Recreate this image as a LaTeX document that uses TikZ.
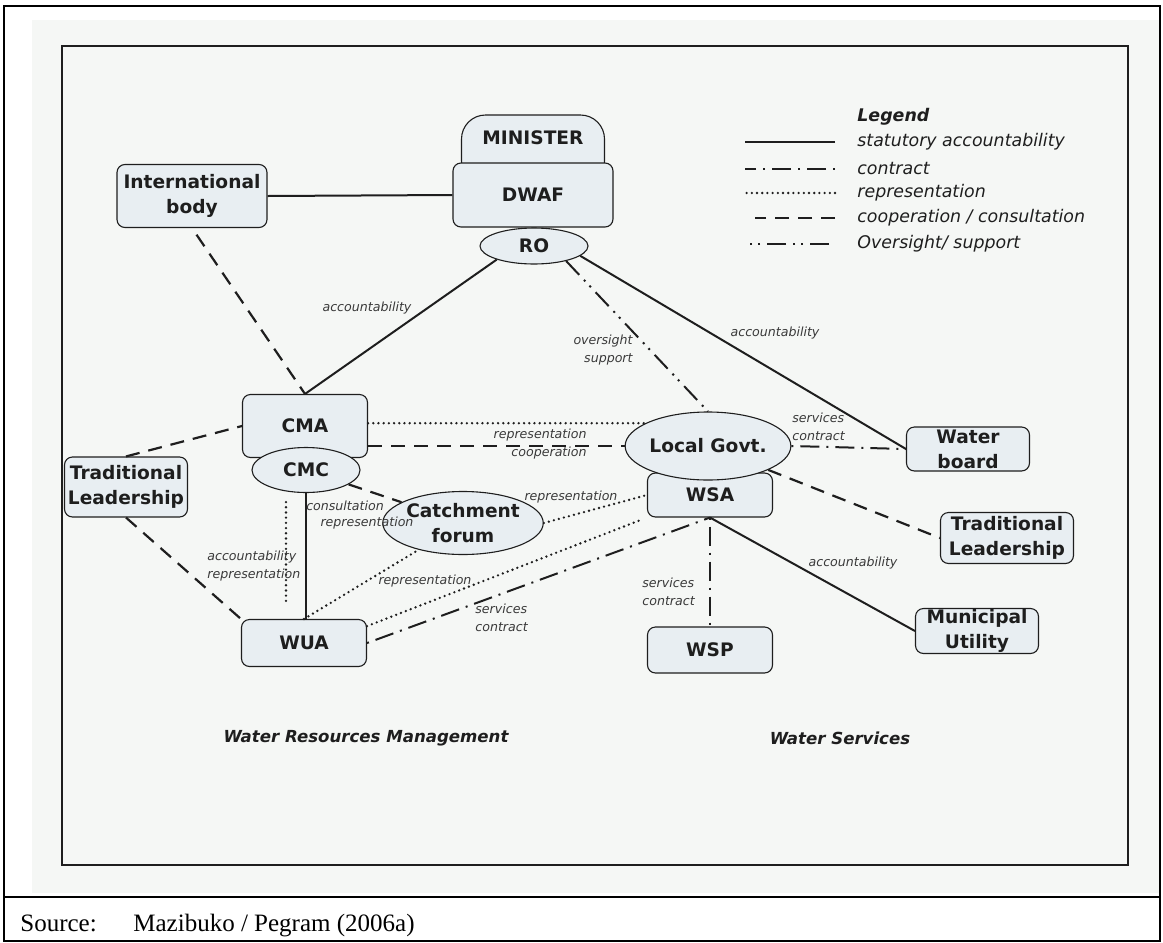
\documentclass[tikz,border=0pt]{standalone}
\usepackage{fontspec}
\setsansfont{DejaVu Sans}
\newfontfamily\srcfont{Liberation Serif}
\usepackage{tikz}
\usetikzlibrary{shapes.geometric, calc}
\definecolor{boxfill}{HTML}{E8EEF2}
\definecolor{scan}{HTML}{F5F7F5}
\definecolor{ink}{HTML}{1E1E1E}
\definecolor{lblgray}{HTML}{3A3A3A}
\tikzstyle{unit} = [draw=ink, fill=boxfill, line width=0.55pt, rounded corners=4pt, inner sep=0pt, align=center, text=ink, font=\sffamily\bfseries\fontsize{9.3}{12.5}\selectfont]
\tikzstyle{body} = [unit, ellipse, sharp corners]
\tikzstyle{lbl} = [inner sep=0pt, align=center, text=lblgray, font=\sffamily\itshape\fontsize{6.3}{8.8}\selectfont]
\tikzstyle{legtxt} = [inner sep=0pt, anchor=west, text=ink, font=\sffamily\itshape\fontsize{8.7}{10}\selectfont]
\tikzstyle{statutory} = [draw=ink, line width=1pt]
\tikzstyle{contract} = [draw=ink, line width=1pt, dash pattern=on 1pt off 3.5pt on 9.5pt off 3.5pt]
\tikzstyle{oversight} = [draw=ink, line width=1pt, dash pattern=on 9.5pt off 3.5pt on 1pt off 3pt on 1pt off 3.5pt]
\tikzstyle{repr} = [draw=ink, line width=1.3pt, line cap=round, dash pattern=on 0pt off 2.6pt]
\tikzstyle{coop} = [draw=ink, line width=1.1pt, dash pattern=on 7pt off 4.5pt]

\begin{document}
\begin{tikzpicture}[x=0.5pt, y=-0.5pt]
    % page, scanned sheet and frames
    \useasboundingbox (0,0) rectangle (1163,943);
    \fill[scan] (32,20) rectangle (1160,893);
    \draw[line width=1.1pt] (4,6) rectangle (1160,941);
    \draw[line width=1.1pt] (4,897) -- (1160,897);
    \draw[draw=ink, line width=0.8pt] (62,46) rectangle (1128,865);

    % organisations
    \node[unit, minimum width=75pt, minimum height=31.5pt] (intl) at (192,196) {International\\body};
    \node[unit, rounded corners=12pt, minimum width=71.5pt, minimum height=35pt, text depth=12pt] (minister) at (533,150) {MINISTER};
    \node[unit, minimum width=80pt, minimum height=32pt] (dwaf) at (533,195) {DWAF};
    \node[body, minimum width=54pt, minimum height=18pt] (ro) at (534,246) {RO};
    \node[unit, minimum width=62.5pt, minimum height=31.5pt] (cma) at (305,426) {CMA};
    \node[body, minimum width=54pt, minimum height=22.5pt] (cmc) at (306,470) {CMC};
    \node[unit, minimum width=61.5pt, minimum height=30pt] (tlw) at (126,487) {Traditional\\Leadership};
    \node[body, minimum width=71.5pt, minimum height=31.5pt] (forum) at (463,523) {Catchment\\forum};
    \node[unit, minimum width=62.5pt, minimum height=23.5pt] (wua) at (304,643) {WUA};
    \node[unit, minimum width=62.5pt, minimum height=22pt] (wsa) at (710,495) {WSA};
    \node[body, minimum width=80pt, minimum height=34pt] (lg) at (708,446) {Local Govt.};
    \node[unit, minimum width=62.5pt, minimum height=23pt] (wsp) at (710,650) {WSP};
    \node[unit, minimum width=61.5pt, minimum height=22pt] (wb) at (968,449) {Water\\board};
    \node[unit, minimum width=66.5pt, minimum height=25.5pt] (tlr) at (1007,538) {Traditional\\Leadership};
    \node[unit, minimum width=61.5pt, minimum height=22.5pt] (mu) at (977,631) {Municipal\\Utility};

    % relations
    \draw[statutory] (intl.east) -- (dwaf.west);
    \draw[coop, shorten <=4pt] (intl.south) -- (cma.north);
    \draw[statutory] (ro.200) -- (cma.north);
    \draw[oversight] (ro.-25) -- (lg.north);
    \draw[statutory] (ro.-12) -- (wb.west);
    \draw[repr] (cma.east |- lg.160) -- (lg.160);
    \draw[coop] (cma.east |- lg.west) -- (lg.west);
    \draw[coop] (tlw.north) -- (cma.west);
    \draw[coop] (tlw.south) -- (wua.north west);
    \draw[statutory] (cmc.south) -- (cmc.south |- wua.north);
    \draw[repr, shorten <=4.5pt, shorten >=8.5pt] ($(cmc.south)+(-10pt,0)$) -- ($(cmc.south |- wua.north)+(-10pt,0)$);
    \draw[coop] (cmc) -- (forum);
    \draw[repr] (forum.east) -- (wsa.west);
    \draw[repr] (wua.north) -- (forum);
    \draw[repr, shorten >=3pt] (wua.15) -- (wsa.south west);
    \draw[contract] (wua.east) -- (wsa.south);
    \draw[contract] (wsa.south) -- (wsp.north);
    \draw[statutory] (wsa.south) -- (mu.west);
    \draw[contract] (lg.east) -- (wb.west);
    \draw[coop] (lg) -- (tlr.west);

    % relation labels
    \node[lbl] (l_acc1) at (367,308) {accountability};
    \node[lbl, anchor=east, align=right] (l_over) at (633,350) {oversight\\support};
    \node[lbl] (l_acc2) at (775,333) {accountability};
    \node[lbl, anchor=west, align=left] (l_sc1) at (792,427) {services\\contract};
    \node[lbl, anchor=east, align=right] (l_rc) at (587,444) {representation\\cooperation};
    \node[lbl] (l_cons) at (345,506) {consultation};
    \node[lbl] (l_rep1) at (367,523) {representation};
    \node[lbl, anchor=west, align=left] (l_ar) at (207,566) {accountability\\representation};
    \node[lbl] (l_rep2) at (571,497) {representation};
    \node[lbl] (l_rep3) at (425,581) {representation};
    \node[lbl, anchor=west, align=left] (l_sc2) at (475,618) {services\\contract};
    \node[lbl, anchor=west, align=left] (l_sc3) at (642,592) {services\\contract};
    \node[lbl] (l_acc3) at (853,563) {accountability};

    % legend
    \node[legtxt, font=\sffamily\bfseries\itshape\fontsize{8.7}{10}\selectfont] (legend) at (857,117) {Legend};
    \node[legtxt] (leg1) at (857,142) {statutory accountability};
    \node[legtxt] (leg2) at (857,169) {contract};
    \node[legtxt] (leg3) at (857,193) {representation};
    \node[legtxt] (leg4) at (857,218) {cooperation / consultation};
    \node[legtxt] (leg5) at (857,244) {Oversight/ support};
    \draw[statutory] ([xshift=-11pt]leg1.west) -- ++(-45pt,0);
    \draw[contract] ([xshift=-11pt]leg2.west) -- ++(-45pt,0);
    \draw[repr] ([xshift=-11pt]leg3.west) -- ++(-45pt,0);
    \draw[coop] ([xshift=-11pt]leg4.west) -- ++(-40pt,0);
    \draw[oversight] ([xshift=-14pt]leg5.west) -- ++(-42pt,0);

    % captions
    \node[font=\sffamily\bfseries\itshape\fontsize{8.3}{10}\selectfont, text=ink] (wrm) at (366,738) {Water Resources Management};
    \node[font=\sffamily\bfseries\itshape\fontsize{8.3}{10}\selectfont, text=ink] (ws) at (840,738) {Water Services};
    \node[anchor=base west, inner sep=0pt, font=\srcfont\fontsize{12.5}{15}\selectfont] (src) at (20,931) {Source:};
    \node[anchor=base west, inner sep=0pt, font=\srcfont\fontsize{12.5}{15}\selectfont] (cite) at (133,931) {Mazibuko / Pegram (2006a)};
\end{tikzpicture}
\end{document}
